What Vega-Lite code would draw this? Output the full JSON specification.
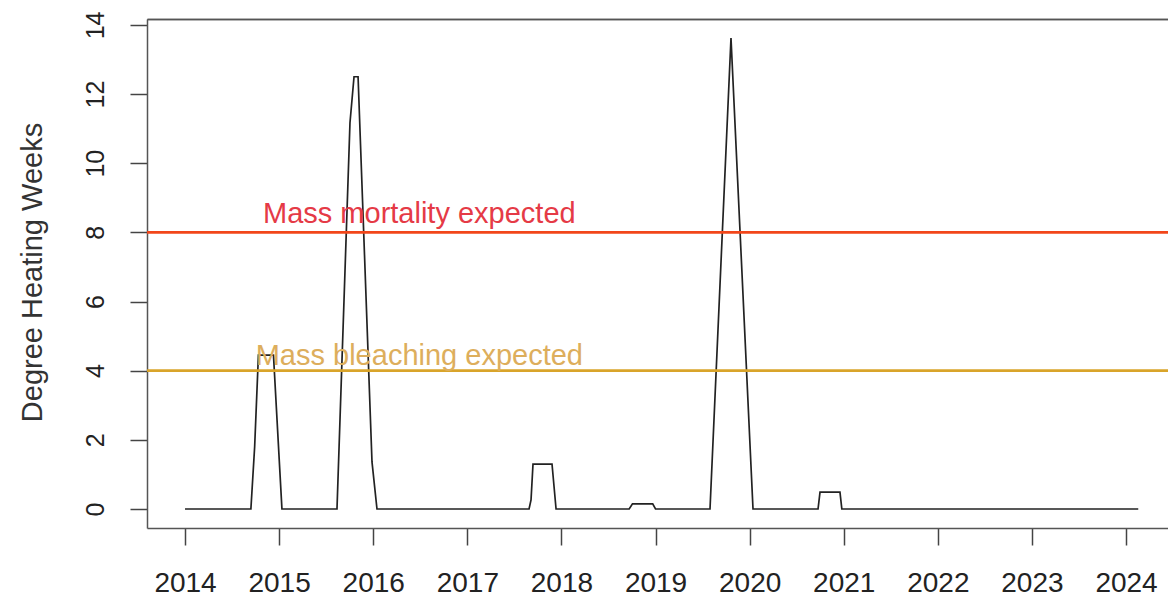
{
  "$schema": "https://vega.github.io/schema/vega-lite/v6.json",
  "width": 1021,
  "height": 509,
  "autosize": {"type": "none"},
  "padding": {"left": 147, "top": 19, "right": 0, "bottom": 69},
  "background": "white",
  "config": {
    "view": {"stroke": null},
    "font": "Liberation Sans",
    "axis": {
      "grid": false,
      "domainColor": "#555555",
      "domainWidth": 1.5,
      "tickColor": "#444444",
      "tickWidth": 1.5,
      "tickSize": 17,
      "labelColor": "#222222",
      "labelFont": "Liberation Sans",
      "titleFont": "Liberation Sans",
      "titleFontWeight": "normal",
      "titleColor": "#333333"
    }
  },
  "datasets": {
    "dhw": [
      {"year": 2014.0, "dhw": 0},
      {"year": 2014.70, "dhw": 0},
      {"year": 2014.74, "dhw": 1.8},
      {"year": 2014.78, "dhw": 4.45},
      {"year": 2014.94, "dhw": 4.45},
      {"year": 2015.03, "dhw": 0},
      {"year": 2015.615, "dhw": 0},
      {"year": 2015.753, "dhw": 11.17},
      {"year": 2015.796, "dhw": 12.5},
      {"year": 2015.839, "dhw": 12.5},
      {"year": 2015.987, "dhw": 1.36},
      {"year": 2016.04, "dhw": 0},
      {"year": 2017.656, "dhw": 0},
      {"year": 2017.677, "dhw": 0.26},
      {"year": 2017.698, "dhw": 1.3},
      {"year": 2017.90, "dhw": 1.3},
      {"year": 2017.943, "dhw": 0},
      {"year": 2018.72, "dhw": 0},
      {"year": 2018.755, "dhw": 0.15},
      {"year": 2018.97, "dhw": 0.15},
      {"year": 2019.0, "dhw": 0},
      {"year": 2019.579, "dhw": 0},
      {"year": 2019.802, "dhw": 13.62},
      {"year": 2020.036, "dhw": 0},
      {"year": 2020.727, "dhw": 0},
      {"year": 2020.748, "dhw": 0.49},
      {"year": 2020.96, "dhw": 0.49},
      {"year": 2020.98, "dhw": 0},
      {"year": 2024.13, "dhw": 0}
    ]
  },
  "layer": [
    {
      "data": {"name": "dhw"},
      "mark": {"type": "line", "color": "#222222", "strokeWidth": 1.7, "interpolate": "linear"},
      "encoding": {
        "x": {
          "field": "year", "type": "quantitative",
          "scale": {"domain": [2013.596, 2024.446], "nice": false, "zero": false},
          "axis": {
            "orient": "bottom",
            "values": [2014, 2015, 2016, 2017, 2018, 2019, 2020, 2021, 2022, 2023, 2024],
            "format": "d",
            "labelFontSize": 28,
            "labelPadding": 24,
            "labelBaseline": "top",
            "title": null
          }
        },
        "y": {
          "field": "dhw", "type": "quantitative",
          "scale": {"domain": [-0.55, 14.17], "nice": false, "zero": false},
          "axis": {
            "values": [0, 2, 4, 6, 8, 10, 12, 14],
            "labelAngle": -90,
            "labelAlign": "center",
            "labelBaseline": "alphabetic",
            "labelFontSize": 25,
            "labelPadding": 27,
            "title": "Degree Heating Weeks",
            "titleFontSize": 29,
            "titleAngle": -90,
            "titleAlign": "center",
            "titleBaseline": "alphabetic",
            "titleX": -106,
            "titleY": 253
          }
        }
      }
    },
    {
      "data": {"values": [{"level": 8, "label": "Mass mortality expected", "year": 2016.49}]},
      "layer": [
        {
          "mark": {"type": "rule", "color": "#F2461A", "strokeWidth": 2.6},
          "encoding": {"y": {"field": "level", "type": "quantitative"}}
        },
        {
          "mark": {"type": "text", "color": "#E53A46", "fontSize": 29, "font": "Liberation Sans", "align": "center", "baseline": "alphabetic", "dy": -9},
          "encoding": {
            "x": {"field": "year", "type": "quantitative", "axis": {"orient": "top", "labels": false, "ticks": false, "domain": true, "title": null}},
            "y": {"field": "level", "type": "quantitative"},
            "text": {"field": "label"}
          }
        }
      ]
    },
    {
      "data": {"values": [{"level": 4, "label": "Mass bleaching expected", "year": 2016.49}]},
      "layer": [
        {
          "mark": {"type": "rule", "color": "#D9A42A", "strokeWidth": 2.6},
          "encoding": {"y": {"field": "level", "type": "quantitative"}}
        },
        {
          "mark": {"type": "text", "color": "#DDAE5C", "fontSize": 29, "font": "Liberation Sans", "align": "center", "baseline": "alphabetic", "dy": -6},
          "encoding": {
            "x": {"field": "year", "type": "quantitative", "axis": {"orient": "top", "labels": false, "ticks": false, "domain": true, "title": null}},
            "y": {"field": "level", "type": "quantitative"},
            "text": {"field": "label"}
          }
        }
      ]
    }
  ]
}
